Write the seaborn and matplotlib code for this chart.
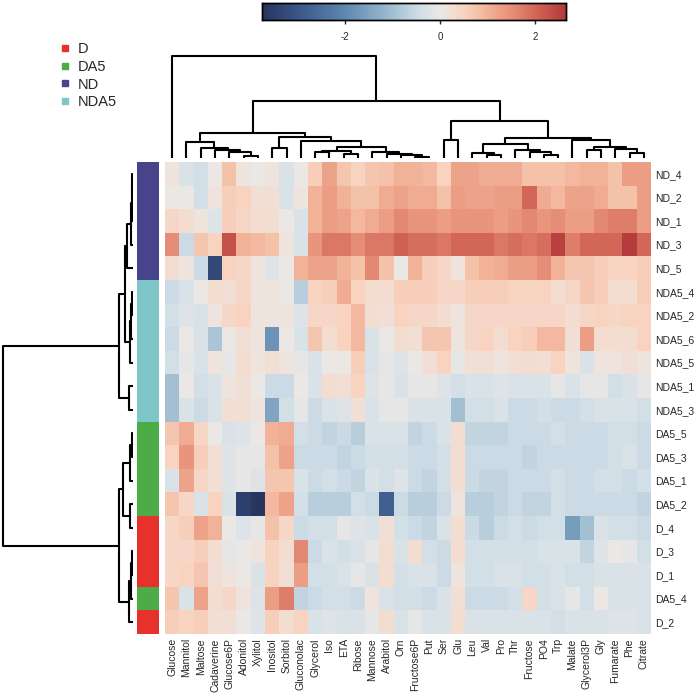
import numpy as np
import pandas as pd
import matplotlib
matplotlib.use("Agg")
import matplotlib.pyplot as plt
from matplotlib.colors import LinearSegmentedColormap, ListedColormap
from matplotlib.lines import Line2D
import seaborn as sns

sns.set_style("white")
plt.rcParams['font.family'] = ['Liberation Sans', 'DejaVu Sans']
plt.rcParams['axes.unicode_minus'] = False

# -----------------------------
# Data (rows / columns in the displayed, clustered order)
# -----------------------------
row_labels = ["ND_4", "ND_2", "ND_1", "ND_3", "ND_5",
              "NDA5_4", "NDA5_2", "NDA5_6", "NDA5_5", "NDA5_1", "NDA5_3",
              "DA5_5", "DA5_3", "DA5_1", "DA5_2", "D_4", "D_3", "D_1", "DA5_4", "D_2"]
row_groups = ["ND", "ND", "ND", "ND", "ND",
              "NDA5", "NDA5", "NDA5", "NDA5", "NDA5", "NDA5",
              "DA5", "DA5", "DA5", "DA5", "D", "D", "D", "DA5", "D"]
col_labels = ["Glucose", "Mannitol", "Maltose", "Cadaverine", "Glucose6P", "Adonitol",
              "Xylitol", "Inositol", "Sorbitol", "Gluconolac", "Glycerol", "Iso", "ETA",
              "Ribose", "Mannose", "Arabitol", "Orn", "Fructose6P", "Put", "Ser", "Glu",
              "Leu", "Val", "Pro", "Thr", "Fructose", "PO4", "Trp", "Malate", "Glycerol3P",
              "Gly", "Fumarate", "Phe", "Citrate"]
groups = ["D", "DA5", "ND", "NDA5"]
group_colors = ["#e7312d", "#4cac48", "#47448b", "#7fc6c8"]

# scaled abundance, one row per sample
values = [
    [0.1, -0.3, -0.4, 0.0, 0.8, 0.1, 0.0, 0.1, -0.3, 0.0, 0.6, 1.2, 0.7, 0.5, 0.7, 0.8, 1.0, 1.0, 0.9, 0.5, 1.2, 1.2, 1.1, 1.1, 1.1, 0.8, 0.8, 0.8, 0.9, 1.0, 1.0, 0.8, 1.3, 1.3],
    [0.0, 0.0, -0.4, 0.1, 0.6, 0.5, 0.2, 0.2, -0.3, 0.1, 1.0, 1.3, 1.0, 0.8, 0.8, 1.1, 1.2, 1.1, 1.1, 0.8, 1.3, 1.2, 1.2, 1.3, 1.3, 2.0, 1.1, 0.9, 1.2, 1.2, 1.1, 0.8, 0.8, 1.3],
    [0.4, 0.3, 0.1, -0.2, 0.6, 0.4, 0.3, 0.3, 0.0, -0.3, 1.0, 1.3, 1.2, 0.9, 1.1, 1.3, 1.6, 1.4, 1.4, 1.3, 1.4, 1.4, 1.4, 1.3, 1.4, 1.6, 1.4, 1.5, 1.3, 1.3, 1.6, 1.7, 1.7, 1.3],
    [1.5, -0.5, 0.7, 0.5, 2.3, 1.0, 0.9, 0.8, 0.1, -0.3, 1.4, 1.8, 1.8, 1.5, 1.8, 1.8, 2.1, 1.9, 1.9, 1.8, 2.0, 2.0, 2.0, 1.8, 1.9, 1.8, 1.9, 2.5, 1.7, 2.0, 2.0, 2.0, 2.6, 2.0],
    [0.3, 0.1, -0.5, -3.3, 0.5, 0.4, 0.1, -0.2, 0.0, 1.0, 1.2, 1.2, 1.0, 0.8, 1.6, 0.8, 0.0, 1.0, 0.6, 0.4, 0.1, 0.8, 1.0, 1.1, 1.3, 1.3, 1.5, 1.0, 0.7, 0.7, 0.6, 0.5, 0.5, 0.6],
    [-0.5, -0.3, 0.0, 0.3, 0.2, 0.4, 0.1, 0.1, 0.0, -0.7, 0.5, 0.6, 1.1, 0.5, 0.3, 0.3, 0.6, 0.6, 0.6, 0.4, 0.4, 0.6, 0.6, 0.6, 0.5, 0.5, 0.5, 0.3, 0.4, 0.7, 0.6, 0.3, 0.3, 0.6],
    [-0.4, -0.2, -0.3, 0.1, 0.4, 0.5, 0.1, 0.1, 0.1, -0.2, 0.4, 0.4, 0.5, 0.9, 0.3, 0.2, 0.5, 0.4, 0.4, 0.3, 0.1, 0.4, 0.4, 0.4, 0.4, 0.4, 0.4, 0.4, 0.3, 0.4, 0.5, 0.4, 0.5, 0.5],
    [-0.5, 0.0, -0.3, -0.9, 0.0, 0.2, 0.1, -1.8, 0.0, -0.3, 0.7, 0.3, 0.5, 0.9, -0.3, 0.0, 0.3, 0.2, 0.7, 0.7, 0.1, 0.4, 0.5, 0.3, 0.5, 0.6, 0.9, 0.9, 0.2, 1.3, 0.3, 0.3, 0.3, 0.5],
    [-0.4, -0.1, -0.3, 0.1, -0.1, 0.3, 0.1, 0.2, 0.1, -0.1, -0.3, 0.0, 0.0, 0.6, -0.3, -0.1, -0.2, 0.0, 0.2, 0.5, -0.1, 0.2, 0.2, 0.1, 0.2, 0.3, 0.2, 0.5, 0.1, -0.3, 0.1, 0.1, 0.2, 0.1],
    [-1.0, 0.0, -0.4, -0.3, 0.1, 0.2, 0.0, -0.5, -0.5, 0.0, -0.3, 0.3, 0.2, 0.5, -0.2, -0.1, -0.3, -0.1, -0.1, -0.2, -0.4, -0.3, -0.3, -0.2, -0.3, -0.3, -0.3, -0.1, -0.3, -0.1, -0.1, -0.4, -0.3, -0.1],
    [-1.0, -0.3, -0.5, -0.3, 0.2, 0.2, 0.1, -1.5, -0.4, -0.1, -0.5, -0.3, -0.2, 0.2, -0.3, -0.1, -0.1, -0.3, -0.3, -0.3, -1.0, -0.4, -0.4, -0.3, -0.5, -0.5, -0.4, -0.5, -0.5, -0.4, -0.3, -0.3, -0.3, -0.4],
    [0.7, 1.1, 0.4, 0.0, -0.3, -0.2, 0.0, 1.0, 1.1, -0.4, -0.5, -0.6, -0.5, -0.7, -0.3, -0.3, -0.3, -0.6, -0.5, -0.3, 0.3, -0.6, -0.6, -0.6, -0.5, -0.5, -0.5, -0.4, -0.5, -0.5, -0.5, -0.4, -0.4, -0.5],
    [0.5, 1.4, 0.6, 0.2, -0.2, -0.1, -0.1, 0.8, 1.2, -0.5, -0.5, -0.5, -0.6, -0.5, -0.4, -0.4, -0.4, -0.5, -0.5, -0.4, 0.3, -0.5, -0.5, -0.5, -0.5, -0.6, -0.5, -0.5, -0.5, -0.5, -0.5, -0.4, -0.3, -0.5],
    [-0.3, 1.2, 0.4, 0.2, -0.2, -0.1, -0.2, 0.7, 0.7, -0.3, -0.5, -0.4, -0.5, -0.6, -0.3, -0.4, -0.2, -0.5, -0.6, -0.4, 0.3, -0.5, -0.6, -0.6, -0.5, -0.5, -0.5, -0.4, -0.5, -0.5, -0.4, -0.4, -0.5, -0.4],
    [0.7, 0.4, -0.3, 0.5, -0.3, -3.5, -3.7, 0.9, 1.2, -0.4, -0.7, -0.7, -0.7, -0.4, -0.5, -2.8, -0.5, -0.7, -0.7, -0.5, 0.1, -0.7, -0.7, -0.6, -0.5, -0.6, -0.6, -0.4, -0.5, -0.5, -0.5, -0.5, -0.5, -0.6],
    [0.4, 0.6, 1.2, 1.0, 0.0, -0.2, -0.1, 0.8, 0.4, -0.5, -0.4, -0.4, -0.1, -0.2, -0.3, 0.2, -0.4, -0.5, -0.6, -0.3, 0.3, -0.5, -0.7, -0.5, -0.4, -0.5, -0.4, -0.4, -1.6, -1.0, -0.3, -0.4, -0.4, -0.5],
    [0.4, 0.4, 0.6, 0.3, -0.1, 0.0, 0.1, 0.5, 0.3, 1.6, -0.5, -0.3, -0.4, -0.3, -0.1, 0.3, -0.3, 0.3, -0.4, -0.5, 0.3, -0.4, -0.4, -0.4, -0.4, -0.4, -0.3, -0.3, -0.3, -0.6, -0.2, 0.0, -0.1, -0.4],
    [0.4, 0.5, 0.7, 0.2, 0.1, 0.0, -0.3, 0.5, 0.2, 1.3, -0.4, -0.4, -0.3, -0.1, -0.3, 0.3, -0.4, -0.3, -0.3, -0.5, 0.1, -0.4, -0.4, -0.3, -0.3, -0.4, -0.4, -0.3, -0.4, -0.4, -0.3, -0.3, -0.3, -0.3],
    [0.7, -0.3, 1.2, 0.3, 0.4, 0.1, -0.2, 1.3, 1.7, -0.6, -0.5, -0.4, -0.4, -0.5, 0.1, -0.3, -0.4, -0.4, -0.5, -0.3, 0.2, -0.5, -0.5, -0.5, -0.4, 0.4, -0.4, -0.3, -0.1, -0.4, 0.0, -0.3, -0.3, -0.3],
    [0.6, 0.5, 0.6, 0.2, 0.2, 0.0, -0.2, 0.6, 0.3, 0.5, -0.3, -0.2, -0.3, -0.3, -0.1, 0.3, -0.3, -0.1, -0.3, -0.3, 0.3, -0.3, -0.3, -0.3, -0.3, -0.3, -0.3, -0.4, -0.3, -0.3, -0.3, -0.2, -0.2, -0.3],
]

# hierarchical clustering trees: (new node, left child, right child, merge height)
row_merges = [
    ("r1", "ND_4", "ND_2", 1.0), ("r2", "r1", "ND_1", 1.5), ("r3", "r2", "ND_3", 2.0),
    ("r4", "r3", "ND_5", 6.0),
    ("r5", "NDA5_4", "NDA5_2", 1.5), ("r6", "r5", "NDA5_6", 2.0), ("r7", "r6", "NDA5_5", 3.0),
    ("r8", "r4", "r7", 8.0), ("r9", "NDA5_1", "NDA5_3", 4.5), ("r10", "r8", "r9", 14.0),
    ("r11", "DA5_5", "DA5_3", 1.5), ("r12", "r11", "DA5_1", 3.0), ("r13", "DA5_2", "D_4", 3.0),
    ("r14", "r12", "r13", 10.5),
    ("r15", "D_3", "D_1", 1.5), ("r16", "r15", "DA5_4", 2.5), ("r17", "r16", "D_2", 4.0),
    ("r18", "r14", "r17", 14.0), ("r19", "r10", "r18", 130.0),
]
col_merges = [
    ("c1", "Adonitol", "Xylitol", 2.0), ("c2", "Glucose6P", "c1", 6.3), ("c3", "Cadaverine", "c2", 8.0),
    ("c4", "Maltose", "c3", 9.7), ("c5", "Mannitol", "c4", 16.3),
    ("c6", "Inositol", "Sorbitol", 9.7),
    ("c7", "Glycerol", "Iso", 6.0), ("c8", "ETA", "Ribose", 4.0), ("c9", "c7", "c8", 7.5),
    ("c10", "Fructose6P", "Put", 1.0), ("c11", "Orn", "c10", 3.0), ("c12", "Arabitol", "c11", 4.5),
    ("c13", "Mannose", "c12", 6.3), ("c14", "c9", "c13", 11.3), ("c15", "Gluconolac", "c14", 17.0),
    ("c16", "c6", "c15", 21.3), ("c17", "c5", "c16", 24.7),
    ("c18", "Ser", "Glu", 18.0),
    ("c19", "Val", "Pro", 3.0), ("c20", "Leu", "c19", 5.3),
    ("c21", "PO4", "Trp", 3.0), ("c22", "Fructose", "c21", 6.0), ("c23", "Thr", "c22", 8.0),
    ("c24", "c20", "c23", 14.0),
    ("c25", "Glycerol3P", "Gly", 8.0), ("c26", "Phe", "Citrate", 5.3), ("c27", "Fumarate", "c26", 9.0),
    ("c28", "c25", "c27", 11.3), ("c29", "Malate", "c28", 18.0), ("c30", "c24", "c29", 19.7),
    ("c31", "c18", "c30", 37.0), ("c32", "c17", "c31", 57.0), ("c33", "Glucose", "c32", 102.0),
]

df = pd.DataFrame(values, index=row_labels, columns=col_labels)
vmin, vmax = -3.75, 2.65


def dendro_segments(leaves, merges):
    pos = {name: i + 0.5 for i, name in enumerate(leaves)}
    hgt = {name: 0.0 for name in leaves}
    segs = []
    for node, a, b, h in merges:
        segs.append(([pos[a], pos[a], pos[b], pos[b]], [hgt[a], h, h, hgt[b]]))
        pos[node] = (pos[a] + pos[b]) / 2
        hgt[node] = h
    return segs


# colormap anchored on the values
anchors = [(-3.75, "#27345e"), (-3.0, "#3a5688"), (-2.0, "#5d88b0"), (-1.0, "#a2bfd3"),
           (-0.4, "#d2dfe7"), (0.0, "#ebe8e6"), (0.5, "#f8d4c1"), (1.0, "#f2b398"),
           (1.5, "#e78f78"), (2.0, "#d36858"), (2.65, "#b2383a")]
cmap = LinearSegmentedColormap.from_list(
    "key", [((v - vmin) / (vmax - vmin), c) for v, c in anchors])

# -----------------------------
# Figure layout (pixel boxes of the original)
# -----------------------------
W, H = 697, 694
fig = plt.figure(figsize=(W / 100, H / 100), dpi=100)


def box(x0, y0, x1, y1):
    return [x0 / W, 1 - y1 / H, (x1 - x0) / W, (y1 - y0) / H]


hx0, hy0, hx1, hy1 = 165, 162, 651, 634
ax_heat = fig.add_axes(box(hx0, hy0, hx1, hy1))
ax_rowc = fig.add_axes(box(137, hy0, 159, hy1))
ax_rden = fig.add_axes(box(0, hy0, 133, hy1))
ax_cden = fig.add_axes(box(hx0, 50, hx1, 158))
ax_cbar = fig.add_axes(box(262, 3, 566, 20))

sns.heatmap(df, ax=ax_heat, cmap=cmap, vmin=vmin, vmax=vmax, cbar_ax=ax_cbar,
            cbar_kws=dict(orientation="horizontal", ticks=[-2, 0, 2]),
            xticklabels=True, yticklabels=True)
ax_heat.yaxis.tick_right()
ax_heat.set_xlabel("")
ax_heat.set_ylabel("")
ax_heat.tick_params(axis="both", length=0, labelsize=7.5, pad=3)
plt.setp(ax_heat.get_xticklabels(), rotation=90)
plt.setp(ax_heat.get_yticklabels(), rotation=0)

# colour key
ax_cbar.tick_params(axis="x", length=3, width=1, labelsize=7, pad=6, bottom=True, direction="out")
for sp in ax_cbar.spines.values():
    sp.set_visible(True)
    sp.set_linewidth(1)
    sp.set_color("black")

# row annotation bar
codes = pd.DataFrame({"group": [groups.index(g) for g in row_groups]}, index=row_labels)
sns.heatmap(codes, ax=ax_rowc, cmap=ListedColormap(group_colors), vmin=-0.5, vmax=3.5,
            cbar=False, xticklabels=False, yticklabels=False)
ax_rowc.set_ylabel("")

# dendrograms
for xs, ys in dendro_segments(row_labels, row_merges):
    ax_rden.plot(ys, xs, color="black", lw=1.5, solid_capstyle="butt")
ax_rden.set_xlim(133, 0)
ax_rden.set_ylim(len(row_labels), 0)
ax_rden.axis("off")

for xs, ys in dendro_segments(col_labels, col_merges):
    ax_cden.plot(xs, ys, color="black", lw=1.5, solid_capstyle="butt")
ax_cden.set_xlim(0, len(col_labels))
ax_cden.set_ylim(0, 108)
ax_cden.axis("off")

# group legend
handles = [Line2D([], [], marker="s", ls="", markersize=5, color=c) for c in group_colors]
fig.legend(handles, groups, loc="upper left", bbox_to_anchor=(50 / W, 1 - 35 / H),
           frameon=False, fontsize=10.5, handletextpad=0.4, labelspacing=0.25,
           handlelength=1.0, borderpad=0)

fig.savefig("out.png", dpi=100)
